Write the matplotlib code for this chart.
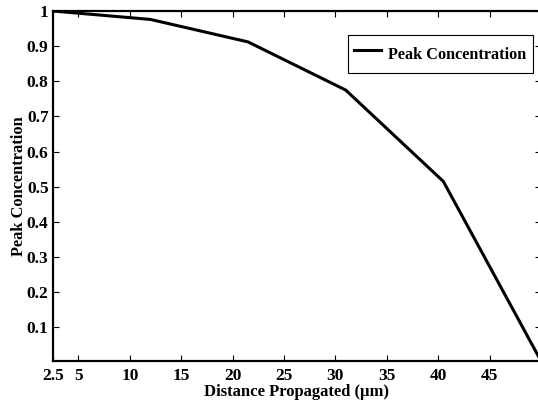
import matplotlib
matplotlib.use("Agg")
import matplotlib.pyplot as plt

# data
distance = [2.5, 12, 21.5, 31, 40.5, 50]
peak = [1.0, 0.976, 0.912, 0.775, 0.515, 0.004]

xticks = [2.5, 5, 10, 15, 20, 25, 30, 35, 40, 45]
xticklabels = ["2.5", "5", "10", "15", "20", "25", "30", "35", "40", "45"]
yticks = [0.1, 0.2, 0.3, 0.4, 0.5, 0.6, 0.7, 0.8, 0.9, 1.0]
yticklabels = ["0.1", "0.2", "0.3", "0.4", "0.5", "0.6", "0.7", "0.8", "0.9", "1"]

plt.rcParams['font.family'] = ['Liberation Serif', 'DejaVu Serif']
plt.rcParams['font.weight'] = 'bold'

fig = plt.figure(figsize=(5.38, 4.04), dpi=100)
ax = fig.add_axes([0.098, 0.1064, 0.9076, 0.8664])

ax.plot(distance, peak, color='black', linewidth=2.2, label='Peak Concentration')

ax.set_xlim(2.5, 50)
ax.set_ylim(0.004, 1.0)
ax.set_xticks(xticks)
ax.set_xticklabels(xticklabels, fontsize=12.5, fontweight='bold')
ax.set_yticks(yticks)
ax.set_yticklabels(yticklabels, fontsize=12.5, fontweight='bold')
ax.tick_params(direction='in', top=True, right=True, length=4, width=0.8)
ax.tick_params(axis='x', pad=5)
ax.tick_params(axis='y', pad=3)

for s in ax.spines.values():
    s.set_linewidth(1.6)

ax.set_xlabel('Distance Propagated (\u03bcm)', fontsize=12, fontweight='bold', labelpad=0)
ax.set_ylabel('Peak Concentration', fontsize=11.8, fontweight='bold', labelpad=-0.5)

leg = ax.legend(loc='upper right', bbox_to_anchor=(0.9907, 0.9134),
                bbox_transform=fig.transFigure, fancybox=False, edgecolor='black',
                framealpha=1, prop={'size': 11.7, 'weight': 'bold'},
                borderaxespad=0, handlelength=1.66, handleheight=2.0,
                borderpad=0.4, handletextpad=0.43)
leg.get_frame().set_linewidth(0.8)

fig.savefig('out.png', dpi=100)
